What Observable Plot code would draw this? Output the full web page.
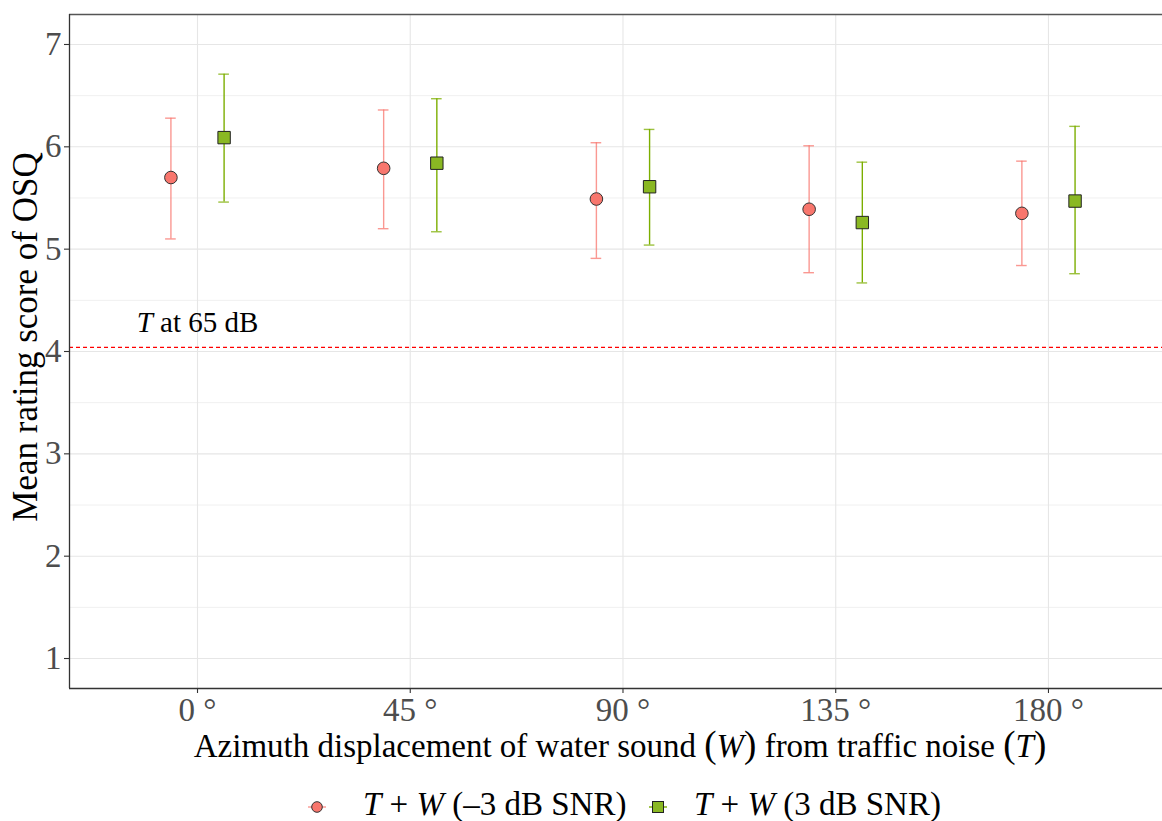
<!DOCTYPE html>
<html>
<head>
<meta charset="utf-8">
<script src="https://cdn.jsdelivr.net/npm/d3@7"></script>
<script src="https://cdn.jsdelivr.net/npm/@observablehq/plot@0.6"></script>
<style>
  html, body { margin: 0; padding: 0; background: #fff; }
  #wrap { position: relative; width: 1162px; height: 821px; overflow: hidden; font-family: "Liberation Serif", "Times New Roman", serif; }
  #wrap svg { display: block; }
  #overlay { position: absolute; left: 0; top: 0; pointer-events: none; }
</style>
</head>
<body>
<div id="wrap"></div>
<script>
// ---- data ----
const angleLabels = ["0 °", "45 °", "90 °", "135 °", "180 °"];
const seriesNames = ["T + W (–3 dB SNR)", "T + W (3 dB SNR)"];
const meanMinus3 = [5.70, 5.79, 5.49, 5.39, 5.35];
const lowerMinus3 = [5.10, 5.20, 4.91, 4.77, 4.84];
const upperMinus3 = [6.28, 6.36, 6.04, 6.01, 5.86];
const meanPlus3 = [6.09, 5.84, 5.61, 5.26, 5.47];
const lowerPlus3 = [5.46, 5.17, 5.04, 4.67, 4.76];
const upperPlus3 = [6.71, 6.47, 6.17, 5.85, 6.20];
const referenceLevel = 4.04;           // T at 65 dB
const referenceLabel = "T at 65 dB";
const yTicks = [1, 2, 3, 4, 5, 6, 7];
const yMinorTicks = [1.5, 2.5, 3.5, 4.5, 5.5, 6.5];

// ---- build table ----
const dodge = 0.125, capHalf = 0.025;
const rows = [];
angleLabels.forEach((a, i) => {
  rows.push({i, series: 0, pos: i - dodge, mean: meanMinus3[i], lo: lowerMinus3[i], hi: upperMinus3[i]});
  rows.push({i, series: 1, pos: i + dodge, mean: meanPlus3[i], lo: lowerPlus3[i], hi: upperPlus3[i]});
});
const s0 = rows.filter(d => d.series === 0);
const s1 = rows.filter(d => d.series === 1);
const xIdx = angleLabels.map((_, i) => i);

const redFill = "#F8766D", redBar = "#F8766D";
const greenFill = "#8AB823", greenBar = "#7CAE00";

const xDomain = [-0.6017, 4.536];
const yDomain = [0.707, 7.293];

const plot = Plot.plot({
  width: 1162,
  height: 730,
  marginLeft: 69,
  marginRight: 0,
  marginTop: 14,
  marginBottom: 42,
  style: {fontFamily: "Liberation Serif", fontSize: "33px", background: "white", overflow: "visible"},
  x: {type: "linear", domain: xDomain, axis: null, label: null},
  y: {domain: yDomain, axis: null, label: null},
  marks: [
    Plot.ruleY(yMinorTicks, {stroke: "#f0f0f0", strokeWidth: 1}),
    Plot.ruleY(yTicks, {stroke: "#e6e6e6", strokeWidth: 1.1}),
    Plot.ruleX(xIdx, {stroke: "#e6e6e6", strokeWidth: 1.1}),
    Plot.ruleY([referenceLevel], {stroke: "#ff0000", strokeWidth: 1.3, strokeDasharray: "4,3"}),
    Plot.text([referenceLabel], {x: 0, y: 4.28, text: d => d, fontSize: 29, fill: "black", textAnchor: "middle", fontFamily: "Liberation Serif"}),
    // error bars
    Plot.ruleX(s0, {x: "pos", y1: "lo", y2: "hi", stroke: redBar, strokeOpacity: 0.75, strokeWidth: 1.4}),
    Plot.ruleY(s0, {y: "hi", x1: d => d.pos - capHalf, x2: d => d.pos + capHalf, stroke: redBar, strokeOpacity: 0.75, strokeWidth: 1.4}),
    Plot.ruleY(s0, {y: "lo", x1: d => d.pos - capHalf, x2: d => d.pos + capHalf, stroke: redBar, strokeOpacity: 0.75, strokeWidth: 1.4}),
    Plot.ruleX(s1, {x: "pos", y1: "lo", y2: "hi", stroke: greenBar, strokeWidth: 1.4}),
    Plot.ruleY(s1, {y: "hi", x1: d => d.pos - capHalf, x2: d => d.pos + capHalf, stroke: greenBar, strokeOpacity: 0.75, strokeWidth: 1.4}),
    Plot.ruleY(s1, {y: "lo", x1: d => d.pos - capHalf, x2: d => d.pos + capHalf, stroke: greenBar, strokeOpacity: 0.75, strokeWidth: 1.4}),
    // points
    Plot.dot(s0, {x: "pos", y: "mean", r: 6.3, symbol: "circle", fill: redFill, stroke: "#333", strokeWidth: 1}),
    Plot.dot(s1, {x: "pos", y: "mean", r: 7.0, symbol: "square", fill: greenFill, stroke: "#222", strokeWidth: 1}),
    // panel borders
    Plot.ruleY([yDomain[1]], {stroke: "#555", strokeWidth: 1.3}),
    Plot.ruleY([yDomain[0]], {stroke: "#333", strokeWidth: 1.3}),
    Plot.ruleX([xDomain[0]], {stroke: "#333", strokeWidth: 1.3}),
    // axes
    Plot.axisX(xIdx, {tickSize: 5, tickFormat: () => "", label: null, stroke: "#333", strokeWidth: 1.1}),
    Plot.axisX(xIdx, {tickSize: 0, tickPadding: 9, label: null, tickFormat: i => angleLabels[i], color: "#4d4d4d", fontSize: 33}),
    Plot.axisY(yTicks, {tickSize: 5, tickFormat: () => "", label: null, stroke: "#333", strokeWidth: 1.1}),
    Plot.axisY(yTicks, {tickSize: 0, tickPadding: 8, label: null, tickFormat: d => String(d), color: "#4d4d4d", fontSize: 33})
  ]
});

// italicize the T in the reference label
plot.querySelectorAll("text").forEach(t => {
  if (t.textContent === referenceLabel) {
    t.textContent = "";
    const ns = "http://www.w3.org/2000/svg";
    const a = document.createElementNS(ns, "tspan"); a.setAttribute("font-style", "italic"); a.textContent = "T";
    const b = document.createElementNS(ns, "tspan"); b.textContent = " at 65 dB";
    t.appendChild(a); t.appendChild(b);
  }
});

const wrap = document.getElementById("wrap");
wrap.appendChild(plot);

// overlay titles & legend
const ns = "http://www.w3.org/2000/svg";
const ov = document.createElementNS(ns, "svg");
ov.setAttribute("id", "overlay");
ov.setAttribute("width", 1162);
ov.setAttribute("height", 821);
ov.setAttribute("font-family", "Liberation Serif, Times New Roman, serif");
ov.innerHTML = `
  <text transform="translate(37,337) rotate(-90)" text-anchor="middle" font-size="35" fill="black">Mean rating score of OSQ</text>
  <text x="620" y="757" text-anchor="middle" font-size="33" fill="black">Azimuth displacement of water sound <tspan font-size="37">(</tspan><tspan font-style="italic">W</tspan><tspan font-size="37">)</tspan> from traffic noise <tspan font-size="37">(</tspan><tspan font-style="italic">T</tspan><tspan font-size="37">)</tspan></text>
  <line x1="308" x2="326" y1="807" y2="807" stroke="${redBar}" stroke-opacity="0.75" stroke-width="1.4"/>
  <circle cx="317" cy="807" r="5.3" fill="${redFill}" stroke="#333" stroke-width="1"/>
  <text x="363" y="815" font-size="33" fill="black"><tspan font-style="italic">T</tspan> + <tspan font-style="italic">W</tspan> (–3 dB SNR)</text>
  <line x1="649" x2="667" y1="807" y2="807" stroke="${greenBar}" stroke-width="1.4"/>
  <rect x="652.5" y="801.5" width="11" height="11" fill="${greenFill}" stroke="#222" stroke-width="1"/>
  <text x="694" y="815" font-size="33" fill="black"><tspan font-style="italic">T</tspan> + <tspan font-style="italic">W</tspan> (3 dB SNR)</text>
`;
wrap.appendChild(ov);
</script>
</body>
</html>
